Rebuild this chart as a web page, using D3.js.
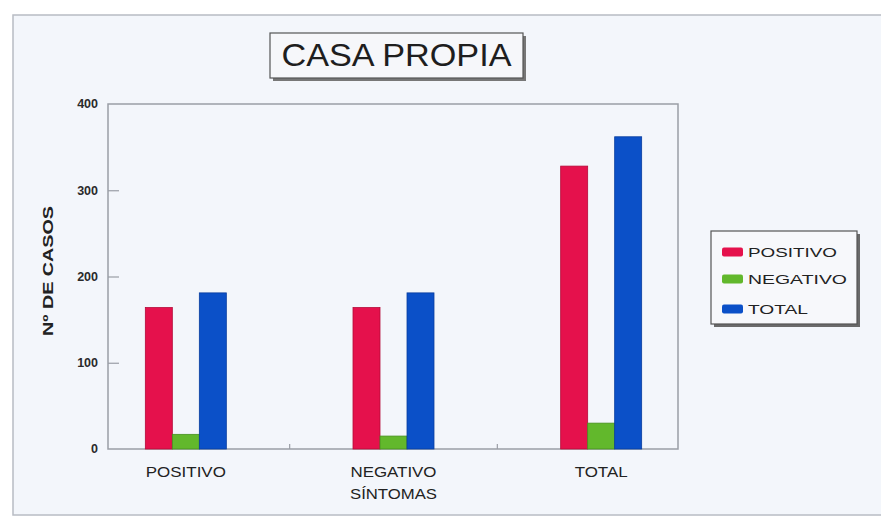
<!DOCTYPE html>
<html><head><meta charset="utf-8">
<script src="https://cdn.jsdelivr.net/npm/d3@7"></script>
<style>body{margin:0;background:#fff;}svg{display:block;}</style>
</head><body>
<svg id="c" width="881" height="517"></svg>
<script>
const title = "CASA PROPIA";
const categories = [["POSITIVO"], ["NEGATIVO", "SÍNTOMAS"], ["TOTAL"]];
const seriesNames = ["POSITIVO", "NEGATIVO", "TOTAL"];
const positivo = [164, 164, 328];
const negativo = [17, 15, 30];
const total = [181, 181, 362];
const yTicks = [0, 100, 200, 300, 400];
const yLabel = "Nº DE CASOS";
const colors = ["#e5114c", "#62b82c", "#0b50c8"];
const strokeColors = ["#b50a38", "#479020", "#083d9e"];

const series = [positivo, negativo, total];
const svg = d3.select("#c");
const font = "'Liberation Sans', Arial, sans-serif";

// page background (photo)
svg.append("rect").attr("x", 13).attr("y", 15).attr("width", 900).attr("height", 500)
  .attr("fill", "#f3f6fb").attr("stroke", "#b8bcc4").attr("stroke-width", 1.5);

const plot = {left: 108, right: 678, top: 104, bottom: 449};
const y = d3.scaleLinear().domain([0, 400]).range([plot.bottom, plot.top]);
const catKeys = categories.map(c => c.join(" "));
const x0 = d3.scaleBand().domain(catKeys).range([82, 705]);
const groupW = 81;
const x1 = d3.scaleBand().domain(seriesNames).range([0, groupW]);

// plot frame
svg.append("rect").attr("x", plot.left).attr("y", plot.top)
  .attr("width", plot.right - plot.left).attr("height", plot.bottom - plot.top)
  .attr("fill", "none").attr("stroke", "#9a9ea6").attr("stroke-width", 1.5);

// y axis (ticks point inward)
const yAxis = d3.axisRight(y).tickValues(yTicks.filter(v => v > 0 && v < 400)).tickSize(11).tickFormat("");
const ya = svg.append("g").attr("transform", `translate(${plot.left},0)`).call(yAxis);
ya.select(".domain").remove();
ya.selectAll("line").attr("stroke", "#9a9ea6").attr("stroke-width", 1.2);

// y tick labels
svg.append("g").selectAll("text").data(yTicks).join("text")
  .attr("x", 98).attr("y", d => y(d)).attr("dy", "0.35em")
  .attr("text-anchor", "end").attr("font-family", font).attr("font-size", 12.5)
  .attr("font-weight", "bold").attr("fill", "#2a2a2a")
  .text(d => d);

// x ticks between groups
const between = catKeys.slice(1).map(k => x0(k));
svg.append("g").selectAll("line").data(between).join("line")
  .attr("x1", d => d).attr("x2", d => d).attr("y1", plot.bottom).attr("y2", plot.bottom - 5)
  .attr("stroke", "#9a9ea6").attr("stroke-width", 1.2);

// bars
const rows = catKeys.map((k, i) => ({key: k, vals: seriesNames.map((s, j) => ({s, j, v: series[j][i]}))}));
const g = svg.append("g").selectAll("g").data(rows).join("g")
  .attr("transform", d => `translate(${x0(d.key) + (x0.bandwidth() - groupW) / 2},0)`);
g.selectAll("rect").data(d => d.vals).join("rect")
  .attr("x", d => x1(d.s)).attr("y", d => y(d.v))
  .attr("width", x1.bandwidth()).attr("height", d => y(0) - y(d.v))
  .attr("fill", d => colors[d.j]).attr("stroke", d => strokeColors[d.j]).attr("stroke-width", 0.8);

// category labels
const catWidths = [[80], [86, 87], [53]];
categories.forEach((lines, i) => {
  const cx = x0(catKeys[i]) + x0.bandwidth() / 2;
  lines.forEach((t, li) => {
    svg.append("text").attr("x", cx).attr("y", 477 + li * 22)
      .attr("text-anchor", "middle").attr("font-family", font).attr("font-size", 14)
      .attr("fill", "#222")
      .attr("textLength", catWidths[i][li]).attr("lengthAdjust", "spacingAndGlyphs")
      .text(t);
  });
});

// y label
svg.append("text").attr("transform", "translate(53,271) rotate(-90)")
  .attr("text-anchor", "middle").attr("font-family", font).attr("font-size", 14)
  .attr("font-weight", "bold").attr("fill", "#222")
  .attr("textLength", 130).attr("lengthAdjust", "spacingAndGlyphs")
  .text(yLabel);

// title box
const tb = {x: 270, y: 33, w: 253, h: 45};
svg.append("rect").attr("x", tb.x + 3).attr("y", tb.y + 3).attr("width", tb.w).attr("height", tb.h).attr("fill", "#777");
svg.append("rect").attr("x", tb.x).attr("y", tb.y).attr("width", tb.w).attr("height", tb.h)
  .attr("fill", "#f6f7fa").attr("stroke", "#555").attr("stroke-width", 1.2);
svg.append("text").attr("x", tb.x + tb.w / 2).attr("y", 66).attr("text-anchor", "middle")
  .attr("font-family", font).attr("font-size", 31).attr("fill", "#1e1e1e")
  .attr("textLength", 230).attr("lengthAdjust", "spacingAndGlyphs")
  .text(title);

// legend
const lb = {x: 711, y: 231, w: 146, h: 93};
svg.append("rect").attr("x", lb.x + 3).attr("y", lb.y + 3).attr("width", lb.w).attr("height", lb.h).attr("fill", "#6a6a6a");
svg.append("rect").attr("x", lb.x).attr("y", lb.y).attr("width", lb.w).attr("height", lb.h)
  .attr("fill", "#f7f8fb").attr("stroke", "#555").attr("stroke-width", 1.2);
const legY = [252, 279, 309];
const legW = [89, 99, 60];
seriesNames.forEach((s, i) => {
  svg.append("rect").attr("x", 722).attr("y", legY[i] - 4.5).attr("width", 21).attr("height", 9)
    .attr("rx", 2).attr("fill", colors[i]);
  svg.append("text").attr("x", 748).attr("y", legY[i]).attr("dy", "0.36em")
    .attr("font-family", font).attr("font-size", 13.5).attr("fill", "#222")
    .attr("textLength", legW[i]).attr("lengthAdjust", "spacingAndGlyphs")
    .text(s);
});
</script>
</body></html>
